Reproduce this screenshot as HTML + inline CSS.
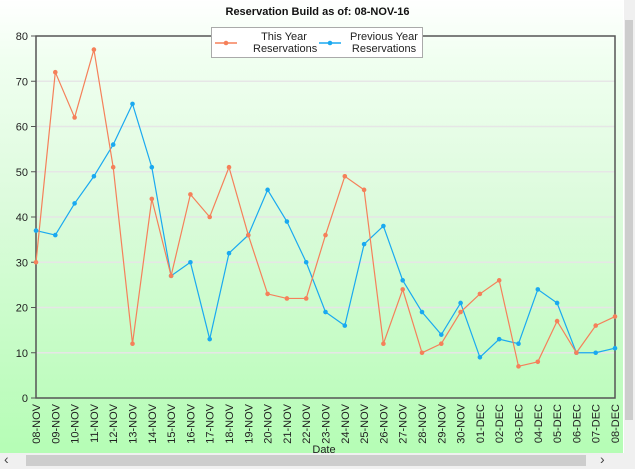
<!DOCTYPE html>
<html><head><meta charset="utf-8"><style>
html,body{margin:0;padding:0;background:#fff;}
body{width:635px;height:469px;overflow:hidden;position:relative;font-family:"Liberation Sans",sans-serif;}
</style></head><body>
<div style="position:absolute;left:0;top:0;width:623px;height:453px;background:linear-gradient(#ffffff 0px,#f0fff0 60px,#ddfbdd 200px,#b5fdb5 453px);"></div>
<div style="position:absolute;left:624px;top:0;width:11px;height:469px;background:#f0f0f0;"><div style="position:absolute;left:1px;top:20px;width:8px;height:400px;background:#cdcdcd"></div></div>
<div style="position:absolute;left:0;top:453px;width:624px;height:16px;background:#f0f0f0;"><div style="position:absolute;left:26px;top:2px;width:560px;height:11px;background:#cdcdcd"></div><span style="position:absolute;left:4px;top:-2px;font-size:14px;color:#444">‹</span><span style="position:absolute;left:600px;top:-2px;font-size:14px;color:#444">›</span></div>
<svg id="c" width="635" height="469" style="position:absolute;left:0;top:0" xmlns="http://www.w3.org/2000/svg"></svg>
<script>
const categories=["08-NOV","09-NOV","10-NOV","11-NOV","12-NOV","13-NOV","14-NOV","15-NOV","16-NOV","17-NOV","18-NOV","19-NOV","20-NOV","21-NOV","22-NOV","23-NOV","24-NOV","25-NOV","26-NOV","27-NOV","28-NOV","29-NOV","30-NOV","01-DEC","02-DEC","03-DEC","04-DEC","05-DEC","06-DEC","07-DEC","08-DEC"];
const thisYear=[30,72,62,77,51,12,44,27,45,40,51,36,23,22,22,36,49,46,12,24,10,12,19,23,26,7,8,17,10,16,18];
const prevYear=[37,36,43,49,56,65,51,27,30,13,32,36,46,39,30,19,16,34,38,26,19,14,21,9,13,12,24,21,10,10,11];
const yTicks=[0,10,20,30,40,50,60,70,80];
const svg=document.getElementById('c');const NS='http://www.w3.org/2000/svg';
const L=36,R=615,T=36,B=398,YMAX=80;
const x=i=>L+i*(R-L)/(categories.length-1);
const y=v=>B-v*(B-T)/YMAX;
function mk(t,a,p){const e=document.createElementNS(NS,t);for(const k in a)e.setAttribute(k,a[k]);(p||svg).appendChild(e);return e;}
yTicks.forEach(v=>{
 if(v>0&&v<80){const g=mk('line',{x1:L,x2:R,y1:y(v),y2:y(v),stroke:'#e6e6e6','stroke-width':1.5});
 
 }
 mk('line',{x1:L-5,x2:L,y1:y(v),y2:y(v),stroke:'#555'});
 const t=mk('text',{x:L-8,y:y(v)+4,'text-anchor':'end','font-size':11,fill:'#222'});t.textContent=v;
 
 
});
const frame=mk('rect',{x:L,y:T,width:R-L,height:B-T,fill:'none',stroke:'#555','stroke-width':1.5});


categories.forEach((c,i)=>{
 const t=mk('text',{transform:`translate(${x(i)+4},${B+6}) rotate(-90)`,'text-anchor':'end','font-size':11,fill:'#222'});t.textContent=c;
 
 
});
function series(d,col,name){
 const p=mk('polyline',{points:d.map((v,i)=>x(i)+','+y(v)).join(' '),fill:'none',stroke:col,'stroke-width':1.2});
 
 
 d.forEach((v,i)=>{const c=mk('circle',{cx:x(i),cy:y(v),r:2.3,fill:col});
 
 });
}
series(prevYear,'#1aa9f0','previous-year');
series(thisYear,'#f5805a','this-year');
</script>
<div style="position:absolute;left:0;width:635px;top:6px;text-align:center;font-size:11px;font-weight:bold;color:#111">Reservation Build as of: 08-NOV-16</div>
<div style="position:absolute;left:211px;top:27px;width:210px;height:29px;background:#fff;border:1px solid #aaa;font-size:11px;color:#222;line-height:12px;">
 <div style="position:absolute;left:3px;top:3px;width:100px;height:25px;">
  <svg width="22" height="12" style="position:absolute;left:0;top:6px"><line x1="0" y1="6" x2="22" y2="6" stroke="#f5805a" stroke-width="1.5"/><circle cx="11" cy="6" r="2.3" fill="#f5805a"/></svg>
  <div style="position:absolute;left:38px;top:0;white-space:nowrap;width:62px;text-align:center">This Year<br>Reservations</div></div>
 <div style="position:absolute;left:107px;top:3px;width:100px;height:25px;">
  <svg width="22" height="12" style="position:absolute;left:0;top:6px"><line x1="0" y1="6" x2="22" y2="6" stroke="#1aa9f0" stroke-width="1.5"/><circle cx="11" cy="6" r="2.3" fill="#1aa9f0"/></svg>
  <div style="position:absolute;left:30px;top:0;white-space:nowrap;width:70px;text-align:center">Previous Year<br>Reservations</div></div>
</div>
<div style="position:absolute;left:0;width:648px;top:444px;text-align:center;font-size:11px;color:#222;line-height:12px">Date</div>
</body></html>
